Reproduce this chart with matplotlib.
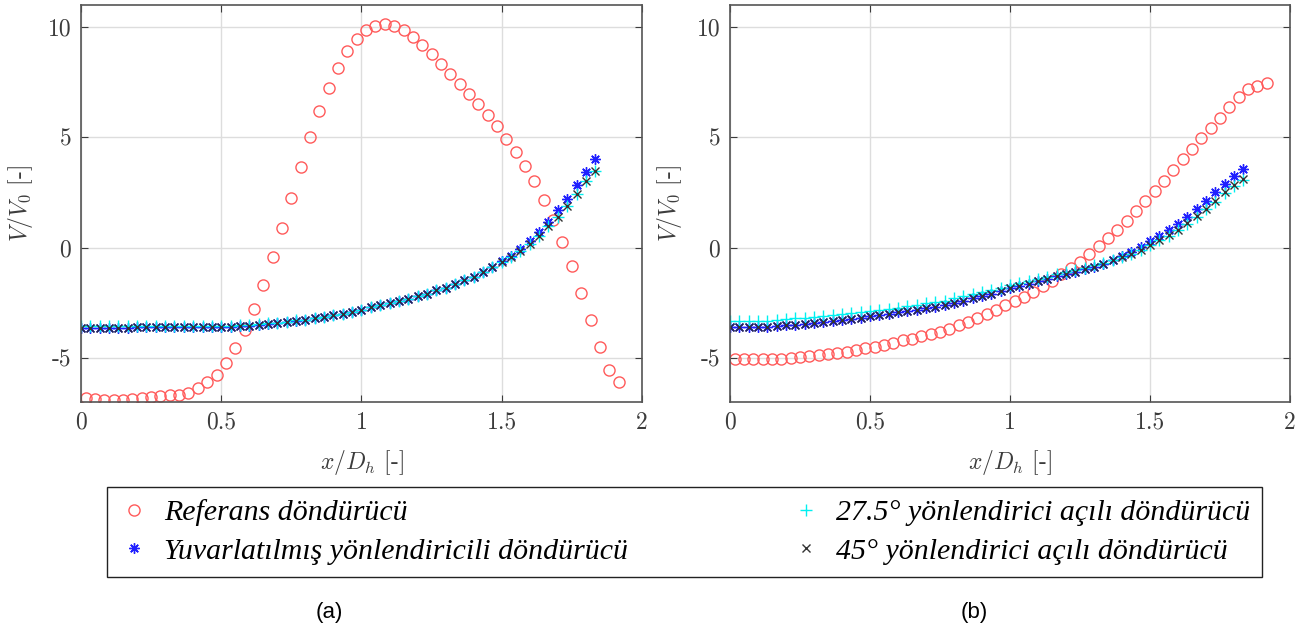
import numpy as np
import matplotlib
matplotlib.use("Agg")
from matplotlib import pyplot as plt

plt.rcParams['mathtext.fontset'] = 'cm'
plt.rcParams['axes.unicode_minus'] = False

# sample positions (x/Dh)
x_ref = np.arange(58) / 30 + 1 / 60
x_gd = np.arange(56) / 30

# (a)
ref_a = [-6.84, -6.87, -6.90, -6.91, -6.90, -6.85, -6.81, -6.76, -6.73, -6.67,
         -6.66, -6.57, -6.36, -6.11, -5.77, -5.21, -4.53, -3.73, -2.77, -1.69,
         -0.44, 0.89, 2.26, 3.66, 5.00, 6.20, 7.24, 8.15, 8.90, 9.47,
         9.85, 10.06, 10.12, 10.06, 9.86, 9.55, 9.19, 8.77, 8.31, 7.86,
         7.41, 6.97, 6.52, 6.02, 5.50, 4.92, 4.34, 3.70, 3.00, 2.18,
         1.27, 0.27, -0.84, -2.05, -3.30, -4.52, -5.53, -6.11]
yuv_a = [-3.63, -3.63, -3.63, -3.63, -3.63, -3.63, -3.62, -3.62, -3.62, -3.62,
         -3.61, -3.61, -3.61, -3.60, -3.60, -3.60, -3.58, -3.57, -3.54, -3.51,
         -3.48, -3.43, -3.39, -3.33, -3.28, -3.21, -3.15, -3.07, -3.00, -2.92,
         -2.82, -2.70, -2.61, -2.53, -2.42, -2.32, -2.20, -2.08, -1.94, -1.81,
         -1.63, -1.49, -1.33, -1.09, -0.86, -0.62, -0.37, -0.07, 0.29, 0.71,
         1.18, 1.69, 2.20, 2.82, 3.43, 4.01]
a275_a = [-3.55, -3.55, -3.55, -3.55, -3.55, -3.55, -3.55, -3.55, -3.55, -3.55,
          -3.55, -3.55, -3.55, -3.55, -3.55, -3.55, -3.54, -3.53, -3.50, -3.47,
          -3.44, -3.40, -3.36, -3.30, -3.26, -3.19, -3.13, -3.06, -2.99, -2.91,
          -2.82, -2.70, -2.61, -2.53, -2.42, -2.32, -2.20, -2.08, -1.94, -1.81,
          -1.63, -1.49, -1.33, -1.11, -0.89, -0.66, -0.42, -0.15, 0.17, 0.54,
          0.96, 1.40, 1.87, 2.42, 3.00, 3.48]
a45_a = [-3.63, -3.63, -3.63, -3.63, -3.63, -3.63, -3.62, -3.62, -3.62, -3.62,
         -3.61, -3.61, -3.61, -3.60, -3.60, -3.60, -3.58, -3.57, -3.54, -3.51,
         -3.48, -3.43, -3.39, -3.33, -3.28, -3.21, -3.15, -3.07, -3.00, -2.92,
         -2.82, -2.70, -2.61, -2.53, -2.42, -2.32, -2.20, -2.08, -1.94, -1.81,
         -1.63, -1.49, -1.33, -1.11, -0.89, -0.66, -0.42, -0.15, 0.17, 0.54,
         0.96, 1.40, 1.87, 2.42, 3.00, 3.48]

# (b)
ref_b = [-5.03, -5.05, -5.06, -5.06, -5.05, -5.03, -5.00, -4.95, -4.91, -4.86,
         -4.82, -4.77, -4.71, -4.64, -4.56, -4.49, -4.40, -4.31, -4.20, -4.13,
         -4.02, -3.93, -3.81, -3.67, -3.52, -3.37, -3.18, -3.00, -2.82, -2.62,
         -2.42, -2.24, -2.02, -1.75, -1.52, -1.19, -0.92, -0.63, -0.29, 0.08,
         0.44, 0.81, 1.22, 1.66, 2.11, 2.58, 3.04, 3.52, 4.01, 4.47,
         4.97, 5.41, 5.89, 6.36, 6.82, 7.20, 7.32, 7.45]
yuv_b = [-3.60, -3.60, -3.60, -3.60, -3.60, -3.57, -3.52, -3.49, -3.45, -3.42,
         -3.37, -3.33, -3.28, -3.24, -3.18, -3.12, -3.06, -3.00, -2.94, -2.88,
         -2.82, -2.74, -2.68, -2.61, -2.50, -2.41, -2.30, -2.20, -2.08, -1.97,
         -1.85, -1.73, -1.63, -1.52, -1.42, -1.30, -1.19, -1.10, -0.99, -0.86,
         -0.72, -0.57, -0.39, -0.21, 0.01, 0.29, 0.54, 0.79, 1.07, 1.41,
         1.76, 2.13, 2.52, 2.90, 3.27, 3.57]
a275_b = [-3.32, -3.32, -3.32, -3.32, -3.32, -3.29, -3.24, -3.21, -3.17, -3.14,
          -3.09, -3.06, -3.01, -2.97, -2.92, -2.87, -2.82, -2.77, -2.72, -2.66,
          -2.60, -2.53, -2.47, -2.40, -2.30, -2.21, -2.11, -2.02, -1.91, -1.81,
          -1.70, -1.59, -1.50, -1.40, -1.31, -1.20, -1.10, -1.02, -0.93, -0.81,
          -0.68, -0.54, -0.42, -0.28, -0.11, 0.13, 0.34, 0.55, 0.79, 1.08,
          1.39, 1.73, 2.09, 2.46, 2.81, 3.08]
a45_b = [-3.60, -3.60, -3.60, -3.60, -3.60, -3.57, -3.52, -3.49, -3.45, -3.42,
         -3.37, -3.33, -3.28, -3.24, -3.18, -3.12, -3.06, -3.00, -2.94, -2.88,
         -2.82, -2.74, -2.68, -2.61, -2.50, -2.41, -2.30, -2.20, -2.08, -1.97,
         -1.85, -1.73, -1.63, -1.52, -1.42, -1.30, -1.19, -1.10, -0.99, -0.86,
         -0.72, -0.57, -0.44, -0.29, -0.11, 0.14, 0.36, 0.57, 0.81, 1.11,
         1.42, 1.76, 2.12, 2.50, 2.85, 3.12]

labels = ["Referans döndürücü",
          "Yuvarlatılmış yönlendiricili döndürücü",
          "27.5° yönlendirici açılı döndürücü",
          "45° yönlendirici açılı döndürücü"]
xticks = [0, 0.5, 1, 1.5, 2]
xticklabels = ["0", "0.5", "1", "1.5", "2"]
yticks = [-5, 0, 5, 10]
yticklabels = ["-5", "0", "5", "10"]

fig = plt.figure(figsize=(13.08, 6.37), dpi=100)
ax1 = fig.add_axes([0.0619, 0.3689, 0.4289, 0.6232])
ax2 = fig.add_axes([0.5581, 0.3689, 0.4281, 0.6232])

axc = '#3c3c3c'
handles = None
for ax, ref, yuv, a275, a45 in [(ax1, ref_a, yuv_a, a275_a, a45_a),
                                (ax2, ref_b, yuv_b, a275_b, a45_b)]:
    h1, = ax.plot(x_ref, ref, 'o', ls='none', mfc='none', mec='#ff5a5a', ms=8, mew=1.0)
    h2, = ax.plot(x_gd, yuv, marker=(8, 2, 0), ls='none', color='#2020ff', ms=7.5, mew=1.0)
    h3, = ax.plot(x_gd, a275, '+', ls='none', color='#00f0f0', ms=8.5, mew=1.0)
    h4, = ax.plot(x_gd, a45, 'x', ls='none', color='#333333', ms=5.5, mew=1.0)
    if handles is None:
        handles = [h1, h2, h3, h4]
    ax.set_xlim(0, 2)
    ax.set_ylim(-7, 11)
    ax.set_xticks(xticks)
    ax.set_xticklabels(xticklabels, fontfamily='cmr10', fontsize=17, color=axc)
    ax.set_yticks(yticks)
    ax.set_yticklabels(yticklabels, fontfamily='cmr10', fontsize=17, color=axc)
    ax.tick_params(direction='in', top=True, right=True, length=5, width=0.8,
                   color=axc, pad=7)
    ax.grid(True, color='#dddddd', lw=1.0)
    ax.set_axisbelow(True)
    for s in ax.spines.values():
        s.set_color('#555555')
        s.set_linewidth(1.2)
    ax.set_xlabel(r'$x/D_h$ [-]', fontfamily='cmr10', fontsize=17, color=axc, labelpad=10)
    ax.set_ylabel(r'$V/V_0$ [-]', fontfamily='cmr10', fontsize=17, color=axc, labelpad=9)

leg = fig.legend(handles, labels, ncol=2, loc='center', mode='expand',
                 bbox_to_anchor=(0.0818, 0.0942, 0.883, 0.1413),
                 prop={'family': 'Liberation Serif', 'style': 'italic', 'size': 21.5},
                 fancybox=False, edgecolor='#222222', framealpha=1,
                 handletextpad=0.5, labelspacing=0.4, borderaxespad=0,
                 handlelength=1.0, markerscale=1.0)
leg.get_frame().set_linewidth(1.0)

fig.text(0.252, 0.039, "(a)", fontfamily='Liberation Sans', fontsize=16, ha='center', va='center')
fig.text(0.745, 0.039, "(b)", fontfamily='Liberation Sans', fontsize=16, ha='center', va='center')

fig.savefig("out.png", dpi=100)
